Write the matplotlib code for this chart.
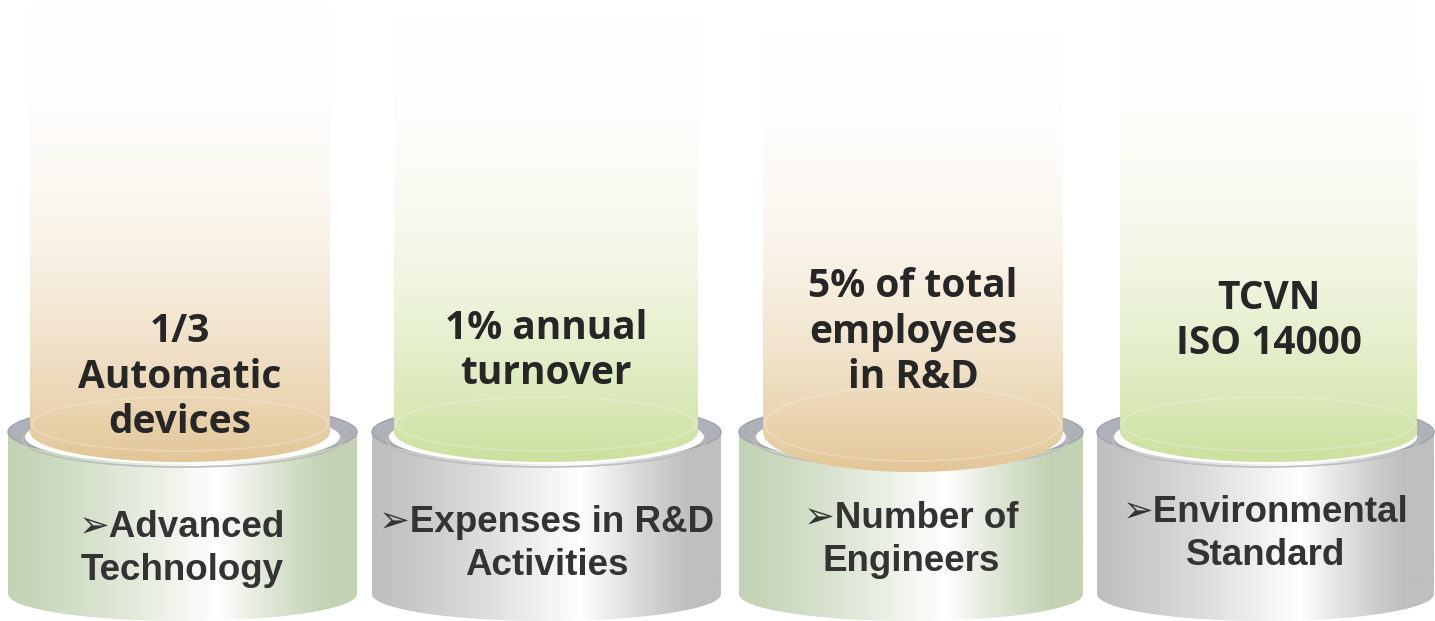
import numpy as np
import matplotlib.pyplot as plt
from matplotlib.patches import Ellipse, PathPatch
from matplotlib.path import Path
import matplotlib.colors as mcolors

# content
column_texts = ["1/3\nAutomatic\ndevices", "1% annual\nturnover",
                "5% of total\nemployees\nin R&D", "TCVN\nISO 14000"]
base_texts = ["\u27a2Advanced\nTechnology", "\u27a2Expenses in R&D\nActivities",
              "\u27a2Number of\nEngineers", "\u27a2Environmental\nStandard"]
column_colors = ["#e3c697", "#cde09e", "#e3c697", "#cde09e"]
base_colors = ["#c3d2b4", "#bfbfbf", "#c3d2b4", "#bfbfbf"]

# geometry (pixels)
base_x = [(8, 357), (372, 721), (739, 1083), (1097, 1434)]
col_x = [(30, 330), (394, 698), (763, 1063), (1120, 1417)]
col_top = [5, 15, 30, 0]
col_bottom = [462, 462, 472, 462]
col_text_y = [377, 351, 332, 321]
base_text_y = [549, 544, 540, 534]
ring_y = 432
ring_h = 29
body_bottom = 594

fig = plt.figure(figsize=(14.35, 6.21), dpi=100)
ax = fig.add_axes([0, 0, 1, 1])
ax.set_xlim(0, 1435)
ax.set_ylim(621, 0)
ax.axis("off")


def cyl_path(x0, x1, ytop, ybot, h):
    # rectangle with a rounded (half ellipse) bottom
    cx, rx = (x0 + x1) / 2, (x1 - x0) / 2
    t = np.linspace(0, np.pi, 60)
    xs = np.concatenate([[x0, x1], cx + rx * np.cos(t)])
    ys = np.concatenate([[ytop, ytop], ybot + h * np.sin(t)])
    return Path(np.column_stack([xs, ys]), closed=False)


def grad_fill(path, extent, rgb_arr, z):
    patch = PathPatch(path, facecolor="none", edgecolor="none", zorder=z)
    ax.add_patch(patch)
    im = ax.imshow(rgb_arr, extent=extent, aspect="auto", zorder=z,
                   interpolation="bilinear", origin="upper")
    im.set_clip_path(patch)


for i in range(4):
    x0, x1 = base_x[i]
    cx, w = (x0 + x1) / 2, x1 - x0
    bc = np.array(mcolors.to_rgb(base_colors[i]))
    # base body, horizontal gradient
    u = np.linspace(0, 1, 300)
    k = np.clip(1 - np.abs(u - 0.6) / np.where(u < 0.6, 0.6, 0.32), 0, 1) ** 1.2
    row = bc[None, :] * (1 - k[:, None]) + k[:, None]
    arr = np.tile(row[None, :, :], (2, 1, 1))
    grad_fill(cyl_path(x0, x1, ring_y, body_bottom, 27),
              (x0, x1, body_bottom + 28, ring_y), arr, 1)
    # ring on top of base
    ax.add_patch(Ellipse((cx, ring_y), w, 2 * ring_h, facecolor="#afb1b8",
                         edgecolor="#a0a2aa", lw=1, zorder=2))
    ax.add_patch(Ellipse((cx, ring_y + 5), w - 34, 2 * ring_h - 4,
                         facecolor="white", edgecolor="none", zorder=3))
    ax.add_patch(Ellipse((cx, ring_y + 8), w - 30, 2 * ring_h - 4, facecolor="none",
                         edgecolor="#bdbdbd", lw=1.2, zorder=2.5))

    # glowing column
    c0, c1 = col_x[i]
    ch = col_bottom[i] - ring_y
    cc = np.array(mcolors.to_rgb(column_colors[i]))
    v = np.linspace(0, 1, 400)
    m = v ** 2.2
    col = (1 - m[:, None]) * 1.0 + m[:, None] * cc[None, :]
    arr = np.tile(col[:, None, :], (1, 2, 1))
    ybot = col_bottom[i] - ch
    grad_fill(cyl_path(c0, c1, col_top[i], ybot, ch),
              (c0, c1, col_bottom[i], col_top[i]), arr, 4)
    # faint rim of the column
    ax.add_patch(Ellipse(((c0 + c1) / 2, ybot - 8), c1 - c0 - 4, 2 * ch - 6,
                         facecolor="none", edgecolor="white", lw=1.2, alpha=0.25,
                         zorder=4.5))

    ax.text((c0 + c1) / 2, col_text_y[i], column_texts[i], ha="center", va="center",
            fontsize=28, fontweight="bold", family=["Open Sans", "DejaVu Sans"],
            color="#262626", linespacing=1.22, zorder=6)
    ax.text(cx, base_text_y[i], base_texts[i], ha="center", va="center",
            fontsize=26.5, fontweight="bold", family=["Liberation Sans", "DejaVu Sans"],
            color="#333333", linespacing=1.3, zorder=6)

fig.savefig("out.png", dpi=100, facecolor="white")
